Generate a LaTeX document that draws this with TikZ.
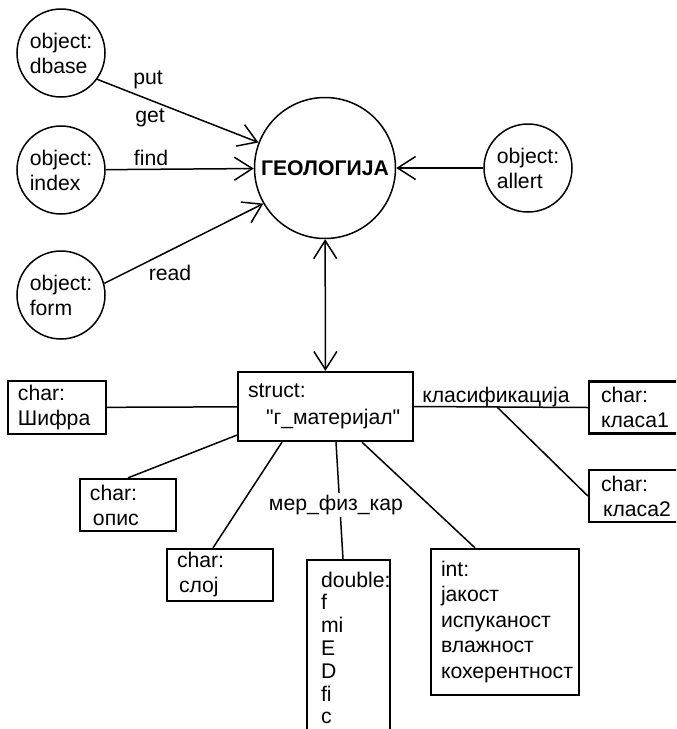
\documentclass[tikz,border=0pt]{standalone}
\usepackage{fontspec}
\setmainfont{Liberation Sans}
\usetikzlibrary{arrows.meta}

\tikzset{
  obj/.style={draw, circle, line width=0.75pt, minimum size=44pt, inner sep=0pt, align=left},
  fld/.style={draw, rectangle, line width=1.15pt, align=left, inner xsep=5pt, inner ysep=0pt},
  lnk/.style={line width=0.75pt},
  barb/.style={-{Straight Barb[length=9pt,width=11.5pt]}},
  barbs/.style={{Straight Barb[length=9pt,width=11.5pt]}-{Straight Barb[length=9pt,width=11.5pt]}},
}

\begin{document}
\begin{tikzpicture}[x=0.5pt, y=-0.5pt, font=\fontsize{10.6}{12.5}\selectfont]
  \clip (0,0) rectangle (676,729);
  \useasboundingbox (0,0) rectangle (676,729);
  % objects
  \node[obj] (dbase) at (61,53) {object:\\dbase};
  \node[obj] (index) at (61,170) {object:\\index};
  \node[obj] (form) at (61,295) {object:\\form};
  \node[obj] (allert) at (528,168) {object:\\allert};
  \node[obj, minimum size=70.5pt, font=\fontsize{10.6}{12.5}\selectfont\bfseries] (geo) at (325,168) {ГЕОЛОГИЈА};
  % fields
  \node[fld, text width=77.5pt, minimum height=34.5pt, font=\fontsize{10.6}{13.5}\selectfont] (struct) at (325.5,406.5) {struct:\\\hspace*{9pt}\textquotedbl г\_материјал\textquotedbl};
  \node[fld, text width=39pt, minimum height=26.5pt] (sifra) at (57,407.5) {char:\\Шифра};
  \node[fld, text width=38pt, minimum height=26pt] (opis) at (128,505) {char:\\\hspace*{1.5pt}опис};
  \node[fld, text width=43pt, minimum height=26pt] (sloj) at (220,575) {char:\\\hspace*{1pt}слој};
  \node[fld, inner xsep=7pt, text width=27.5pt, minimum height=88pt, font=\fontsize{10.6}{11.4}\selectfont] (dbl) at (348.5,648) {double:\\f\\mi\\E\\D\\fi\\c};
  \node[fld, text width=64pt, minimum height=73pt, font=\fontsize{10.6}{12.75}\selectfont] (int) at (505,622) {int:\\јакост\\испуканост\\влажност\\кохерентност};
  \node[fld, inner xsep=6pt, text width=38pt, minimum height=26pt] (klasa1) at (639,407.5) {char:\\класа1};
  \node[fld, inner xsep=6pt, text width=38pt, minimum height=26pt] (klasa2) at (639,496) {char:\\\hspace*{1pt}класа2};
  % calls
  \draw[lnk, barb] (dbase.-36) -- (geo.159);
  \draw[lnk, barb] (index) -- (geo);
  \draw[lnk, barb] (form.15) -- (geo.210);
  \draw[lnk, barb] (allert) -- (geo);
  \draw[lnk, barbs] (geo) -- (struct);
  \node (put) at (148,80) {put};
  \node (get) at (150,118) {get};
  \node (find) at (151,158) {find};
  \node (read) at (170,273) {read};
  % members
  \draw[lnk] (sifra) -- (struct);
  \draw[lnk] (opis.north) -- ([yshift=3.5pt]struct.south west);
  \draw[lnk] ([xshift=-3.5pt]sloj.north) -- ([xshift=-21.75pt]struct.south);
  \draw[lnk] ([xshift=-2.75pt]dbl.north) -- ([xshift=5.25pt]struct.south);
  \draw[lnk] ([xshift=-15pt]int.north) -- ([xshift=18.25pt]struct.south);
  \draw[lnk] (struct.east) -- coordinate[pos=0.477] (kl) (klasa1.west);
  \draw[lnk] (kl) -- (klasa2.west);
  \node[fill=white, inner sep=1pt] (mer) at (336,505) {мер\_физ\_кар};
  \node (klas) at (496,397) {класификација};
\end{tikzpicture}
\end{document}
